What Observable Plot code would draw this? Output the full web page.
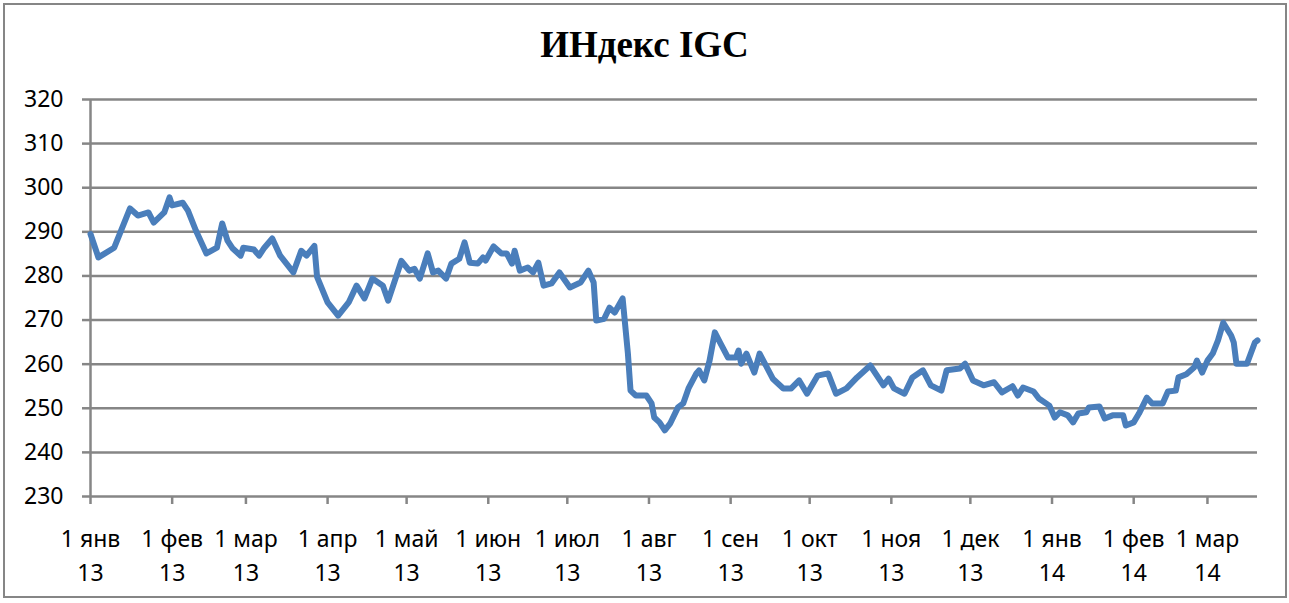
<!DOCTYPE html>
<html>
<head>
<meta charset="utf-8">
<script src="https://cdn.jsdelivr.net/npm/d3@7"></script>
<script src="https://cdn.jsdelivr.net/npm/@observablehq/plot@0.6"></script>
<style>
  body { margin: 0; background: #fff; }
  #wrap { position: relative; width: 1289px; height: 603px; overflow: hidden; background: #fff; }
  #frame { position: absolute; left: 3px; top: 3px; width: 1284px; height: 595px; box-sizing: border-box; border: 2px solid #868686; pointer-events: none; }
  #title { position: absolute; left: 0; top: 26px; width: 1289px; text-align: center; font: bold 37px/37px "Liberation Serif", "DejaVu Serif", serif; color: #000; }
  #chart { position: absolute; left: 0; top: 0; }
</style>
</head>
<body>
<div id="wrap">
  <div id="chart"></div>
  <div id="title">ИНдекс IGC</div>
  <div id="frame"></div>
</div>
<script>
const dates = [
  "2013-01-01","2013-01-04","2013-01-10","2013-01-16","2013-01-19","2013-01-23","2013-01-25","2013-01-29","2013-01-31",
  "2013-02-01","2013-02-05","2013-02-07","2013-02-10","2013-02-14","2013-02-18","2013-02-20","2013-02-22","2013-02-24","2013-02-27","2013-02-28",
  "2013-03-04","2013-03-06","2013-03-08","2013-03-11","2013-03-14","2013-03-19","2013-03-22","2013-03-24","2013-03-27","2013-03-28",
  "2013-04-01","2013-04-05","2013-04-09","2013-04-12","2013-04-15","2013-04-18","2013-04-22","2013-04-24","2013-04-29",
  "2013-05-02","2013-05-04","2013-05-06","2013-05-09","2013-05-11","2013-05-13","2013-05-16","2013-05-18","2013-05-21","2013-05-23","2013-05-25","2013-05-28","2013-05-30","2013-05-31",
  "2013-06-03","2013-06-06","2013-06-08","2013-06-10","2013-06-11","2013-06-13","2013-06-16","2013-06-18","2013-06-20","2013-06-22","2013-06-25","2013-06-28",
  "2013-07-02","2013-07-06","2013-07-09","2013-07-11","2013-07-12","2013-07-15","2013-07-17","2013-07-19","2013-07-22","2013-07-24","2013-07-25","2013-07-27","2013-07-31",
  "2013-08-02","2013-08-03","2013-08-05","2013-08-07","2013-08-09","2013-08-12","2013-08-14","2013-08-16","2013-08-19","2013-08-20","2013-08-22","2013-08-24","2013-08-26","2013-08-28","2013-08-31",
  "2013-09-03","2013-09-04","2013-09-05","2013-09-07","2013-09-10","2013-09-12","2013-09-17","2013-09-21","2013-09-24","2013-09-27","2013-09-30",
  "2013-10-04","2013-10-08","2013-10-11","2013-10-15","2013-10-19","2013-10-24","2013-10-29","2013-10-31",
  "2013-11-02","2013-11-06","2013-11-09","2013-11-13","2013-11-16","2013-11-20","2013-11-22","2013-11-27","2013-11-29",
  "2013-12-02","2013-12-06","2013-12-10","2013-12-13","2013-12-17","2013-12-19","2013-12-21","2013-12-25","2013-12-27","2013-12-31",
  "2014-01-02","2014-01-04","2014-01-07","2014-01-09","2014-01-11","2014-01-14","2014-01-15","2014-01-19","2014-01-21","2014-01-24","2014-01-28","2014-01-29",
  "2014-02-01","2014-02-03","2014-02-06","2014-02-08","2014-02-12","2014-02-14","2014-02-17","2014-02-18","2014-02-21","2014-02-24","2014-02-25","2014-02-27",
  "2014-03-01","2014-03-03","2014-03-05","2014-03-07","2014-03-10","2014-03-11","2014-03-12","2014-03-14","2014-03-16","2014-03-19","2014-03-20"
];
const values = [
  289.5,284.2,286.4,295.3,293.7,294.4,292.1,294.4,297.8,
  296.0,296.6,294.8,290.3,285.1,286.4,291.9,288.0,286.2,284.6,286.4,
  286.0,284.6,286.4,288.5,284.6,280.8,285.7,284.6,286.8,279.8,
  274.0,271.0,274.0,277.8,274.9,279.4,277.8,274.4,283.4,
  281.2,281.6,279.4,285.1,280.8,281.2,279.4,282.8,283.9,287.6,283.0,282.8,284.2,283.5,
  286.7,285.1,285.1,282.8,285.7,281.2,281.9,280.8,283.0,277.8,278.3,280.8,
  277.4,278.5,281.2,278.5,269.9,270.3,272.8,271.7,274.9,262.4,254.0,252.9,252.9,
  251.1,247.9,246.8,245.0,246.5,250.2,251.1,254.5,257.9,258.6,256.3,260.8,267.2,264.9,261.5,
  261.5,263.1,260.1,262.4,258.1,262.4,256.7,254.5,254.5,256.3,253.3,
  257.4,257.9,253.3,254.5,257.0,259.7,255.2,256.7,
  254.5,253.3,257.0,258.6,255.2,254.0,258.6,259.0,260.1,
  256.3,255.2,255.9,253.6,255.0,252.9,254.7,253.8,252.2,250.6,
  247.9,249.1,248.4,246.8,248.8,249.1,250.2,250.4,247.7,248.4,248.4,246.1,
  246.8,248.8,252.4,251.1,251.1,253.8,254.0,257.0,257.7,259.3,260.8,258.1,
  260.8,262.4,265.4,269.4,266.5,264.9,260.1,260.1,260.1,264.9,265.4
];
const monthTicks = [
  "2013-01-01","2013-02-01","2013-03-01","2013-04-01","2013-05-01","2013-06-01","2013-07-01",
  "2013-08-01","2013-09-01","2013-10-01","2013-11-01","2013-12-01","2014-01-01","2014-02-01","2014-03-01"
];
const monthNames = ["янв","фев","мар","апр","май","июн","июл","авг","сен","окт","ноя","дек"];
const yTicks = [230, 240, 250, 260, 270, 280, 290, 300, 310, 320];
const xStart = "2013-01-01";
const xEnd = "2014-03-20";

const parse = s => new Date(s + "T00:00:00Z");
const data = dates.map((d, i) => ({date: parse(d), value: values[i]}));
const tickDates = monthTicks.map(parse);
const grid = "#868686";

const chart = Plot.plot({
  width: 1289,
  height: 603,
  marginTop: 99,
  marginBottom: 107,
  marginLeft: 90,
  marginRight: 32,
  style: {fontFamily: "'Noto Sans', 'Open Sans', sans-serif", fontSize: "23px", color: "#000", background: "transparent"},
  x: {type: "utc", domain: [parse(xStart), parse(xEnd)]},
  y: {domain: [230, 320]},
  marks: [
    Plot.ruleY(yTicks.slice(1), {stroke: grid, strokeWidth: 2.5}),
    Plot.ruleY([230], {stroke: grid, strokeWidth: 2.5}),
    Plot.ruleX([parse(xStart)], {stroke: grid, strokeWidth: 2.5}),
    Plot.axisY({ticks: yTicks, tickSize: 8, tickPadding: 19, stroke: grid, strokeWidth: 2.5, fill: "#000", fontSize: 23, label: null, tickFormat: d => String(d)}),
    Plot.axisX({
      ticks: tickDates, tickSize: 8, tickPadding: 18, stroke: grid, strokeWidth: 2.5, fill: "#000", fontSize: 23,
      lineHeight: 1.48, label: null,
      tickFormat: d => `1 ${monthNames[d.getUTCMonth()]}\n${String(d.getUTCFullYear()).slice(2)}`
    }),
    Plot.lineY(data, {x: "date", y: "value", stroke: "#4A7EBB", strokeWidth: 6, strokeLinejoin: "round", strokeLinecap: "round"})
  ]
});
document.getElementById("chart").appendChild(chart);
</script>
</body>
</html>
